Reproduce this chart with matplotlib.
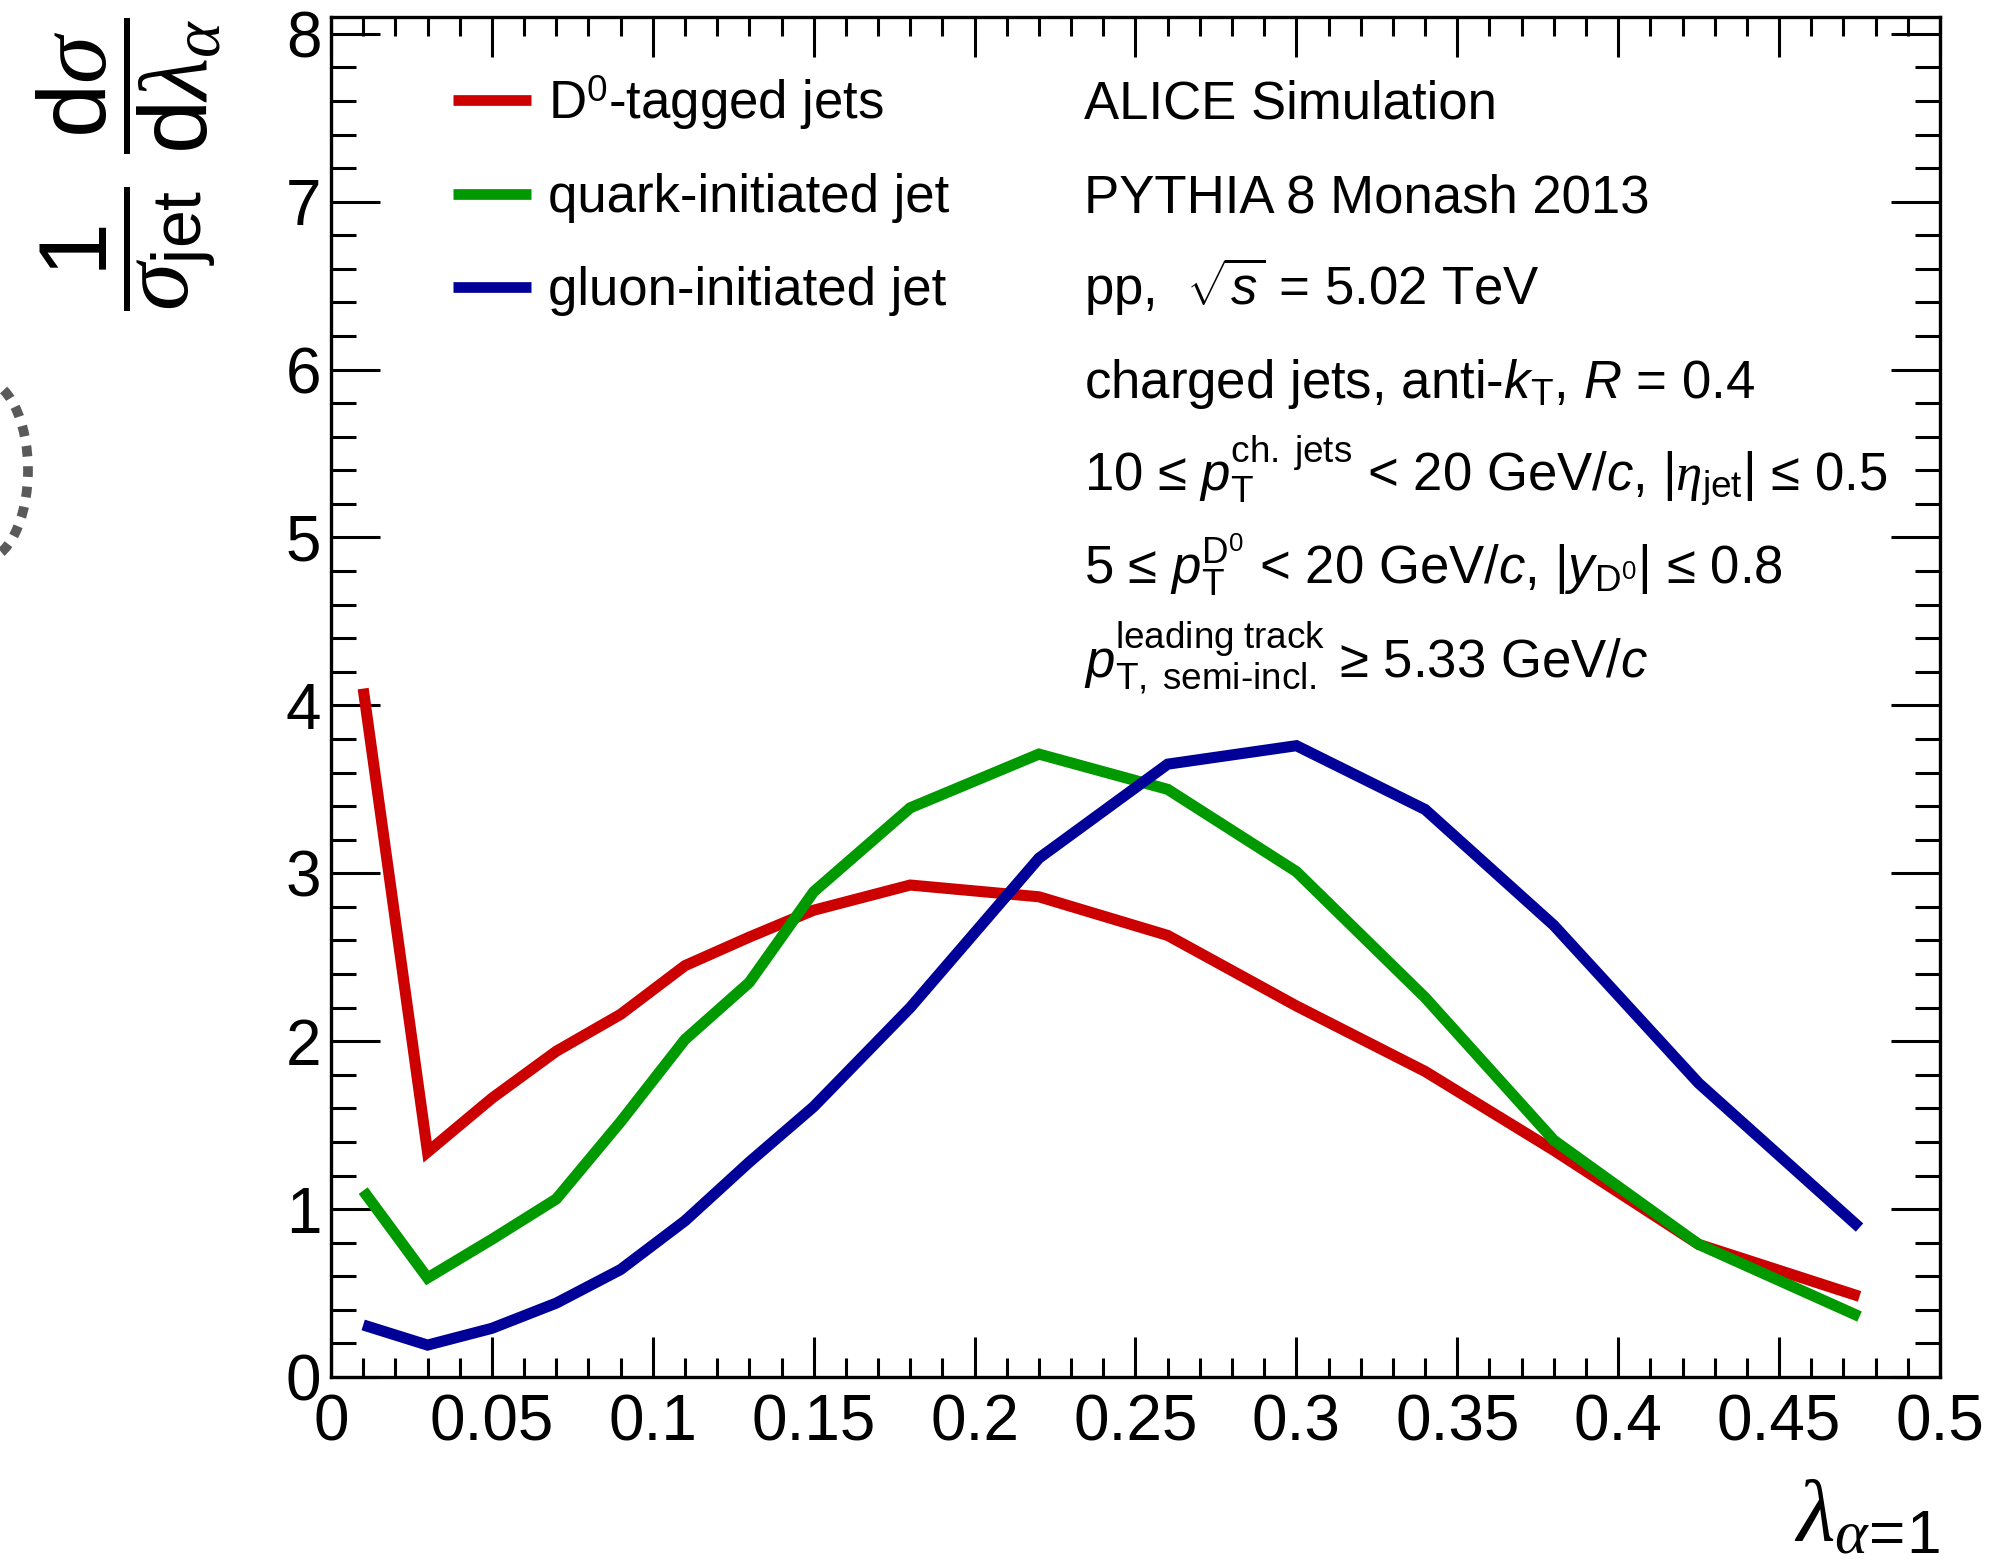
import numpy as np
import matplotlib
matplotlib.use("Agg")
import matplotlib.pyplot as plt
from matplotlib.patches import Ellipse

# lambda bin centres and the three PYTHIA distributions
lam = [0.01, 0.03, 0.05, 0.07, 0.09, 0.11, 0.13, 0.15, 0.18, 0.22, 0.26, 0.30, 0.34, 0.38, 0.425, 0.475]
d0_jets = [4.10, 1.34, 1.66, 1.94, 2.16, 2.45, 2.62, 2.78, 2.93, 2.86, 2.63, 2.21, 1.82, 1.35, 0.79, 0.48]
quark_jets = [1.11, 0.59, 0.82, 1.06, 1.52, 2.01, 2.35, 2.89, 3.39, 3.71, 3.50, 3.01, 2.26, 1.41, 0.79, 0.36]
gluon_jets = [0.31, 0.19, 0.29, 0.44, 0.64, 0.93, 1.28, 1.61, 2.20, 3.09, 3.65, 3.76, 3.38, 2.69, 1.75, 0.89]

labels = ["D$^{0}$-tagged jets", "quark-initiated jet", "gluon-initiated jet"]
colors = ["#cc0000", "#009900", "#000099"]

xticks = [0, 0.05, 0.1, 0.15, 0.2, 0.25, 0.3, 0.35, 0.4, 0.45, 0.5]
xtick_labels = ["0", "0.05", "0.1", "0.15", "0.2", "0.25", "0.3", "0.35", "0.4", "0.45", "0.5"]
yticks = [0, 1, 2, 3, 4, 5, 6, 7, 8]

info = [
    "ALICE Simulation",
    "PYTHIA 8 Monash 2013",
    r"pp,  $\sqrt{\mathsf{s}}$ = 5.02 TeV",
    r"charged jets, anti-$\mathsf{k}_{\mathrm{T}}$, $\mathsf{R}$ = 0.4",
    r"10 ≤ $\mathsf{p}_{\mathrm{T}}^{\mathrm{ch.\ jets}}$ < 20 GeV/$\mathsf{c}$, |$\eta_{\mathrm{jet}}$| ≤ 0.5",
    r"5 ≤ $\mathsf{p}_{\mathrm{T}}^{\mathrm{D}^{0}}$ < 20 GeV/$\mathsf{c}$, |$\mathsf{y}_{\mathrm{D}^{0}}$| ≤ 0.8",
    r"$\mathsf{p}_{\mathrm{T,\ semi}\text{-}\mathrm{incl.}}^{\mathrm{leading\ track}}$ ≥ 5.33 GeV/$\mathsf{c}$",
]

plt.rcParams["font.family"] = ["Liberation Sans", "DejaVu Sans"]
plt.rcParams["mathtext.fontset"] = "custom"
plt.rcParams["mathtext.rm"] = "Liberation Sans"
plt.rcParams["mathtext.it"] = "Liberation Serif:italic"
plt.rcParams["mathtext.sf"] = "Liberation Sans:italic"
plt.rcParams["mathtext.bf"] = "Liberation Sans:bold"

fig = plt.figure(figsize=(19.97, 15.65), dpi=100)
ax = fig.add_axes([0.16575, 0.12013, 0.8057, 0.86901])

for y, c, lab in zip([d0_jets, quark_jets, gluon_jets], colors, labels):
    ax.plot(lam, y, color=c, lw=8, solid_joinstyle="miter", solid_capstyle="butt", label=lab)

ax.set_xlim(0, 0.5)
ax.set_ylim(0, 8.1)
ax.set_xticks(xticks, xtick_labels)
ax.set_yticks(yticks, [str(v) for v in yticks])
ax.xaxis.set_minor_locator(plt.MultipleLocator(0.01))
ax.yaxis.set_minor_locator(plt.MultipleLocator(0.2))
ax.tick_params(direction="in", top=True, right=True, which="both", width=2.2, labelsize=46)
ax.tick_params(axis="x", which="major", length=29, pad=12)
ax.tick_params(axis="x", which="minor", length=14)
ax.tick_params(axis="y", which="major", length=35, pad=7)
ax.tick_params(axis="y", which="minor", length=18)
for s in ax.spines.values():
    s.set_linewidth(2.4)

# axis titles, ROOT style at the axis ends
ax.set_ylabel(r"$\dfrac{1}{\sigma_{\mathrm{jet}}}\ \dfrac{\mathrm{d}\sigma}{\mathrm{d}\lambda_{\alpha}}$",
              fontsize=70, loc="top")
ax.yaxis.set_label_coords(-0.125, 1.0)
ax.yaxis.label.set_va("center")
ax.set_xlabel(r"$\lambda_{\alpha\!=\!1}$", fontsize=64, loc="right")
ax.xaxis.set_label_coords(1.0, -0.1206)
ax.xaxis.label.set_va("baseline")

# legend drawn by hand so the rows line up with the info block
row0 = 0.925
dy = 0.0684
for i, (c, lab) in enumerate(zip(colors, labels)):
    yb = row0 - i * dy
    ax.plot([0.0758, 0.1243], [yb + 0.0136, yb + 0.0136], color=c, lw=7.7,
            solid_capstyle="butt", transform=ax.transAxes)
    ax.text(0.1349, yb, lab, fontsize=38, va="baseline", ha="left", transform=ax.transAxes)

for i, line in enumerate(info):
    ax.text(0.468, row0 - i * dy, line, fontsize=38, va="baseline", ha="left", transform=ax.transAxes)

# piece of a dashed outline cut off at the left page edge
fig.add_artist(Ellipse((-17 / 1997, 1 - 470 / 1565), 90 / 1997, 180 / 1565, fill=False,
                       ec="#5a5a5a", lw=7, ls=(0, (1.1, 1.0)), transform=fig.transFigure))

fig.savefig("out.png", dpi=100)
